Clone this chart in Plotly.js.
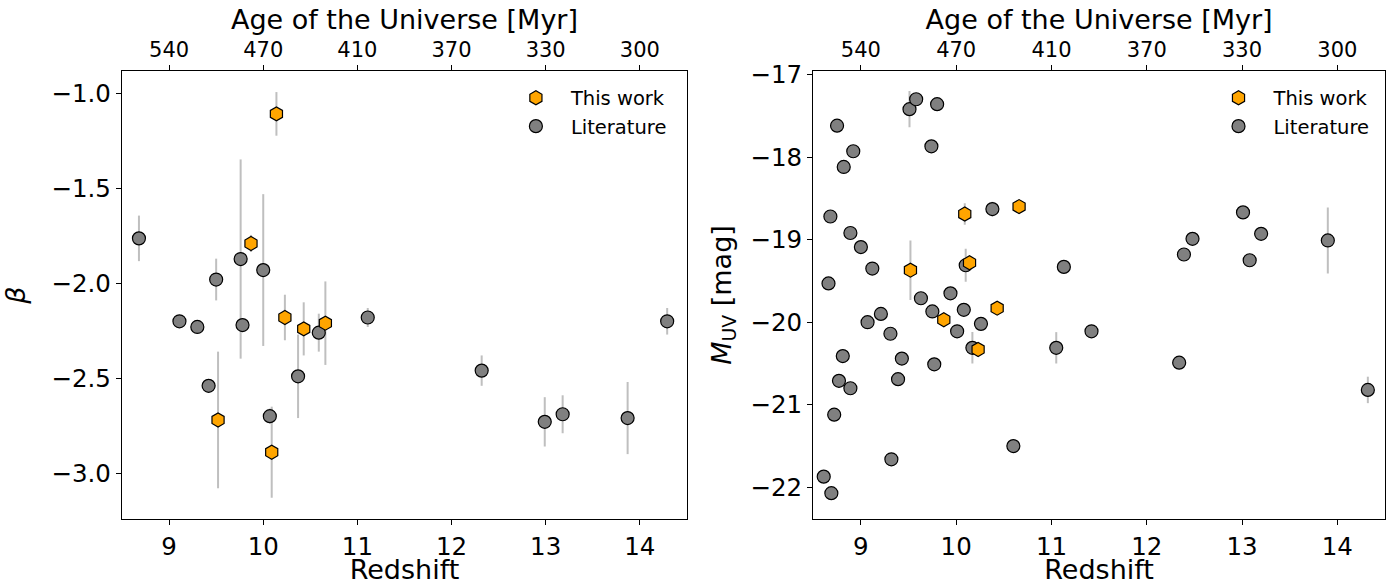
<!DOCTYPE html>
<html>
<head>
<meta charset="utf-8">
<script src="https://cdn.plot.ly/plotly-3.0.1.min.js"></script>
<style>
  html, body { margin: 0; padding: 0; background: #ffffff; }
  #chart { width: 1397px; height: 585px; }
</style>
</head>
<body>
<div id="chart"></div>
<script>
// Galaxies from this work (same objects in both panels)
const zThisWork      = [9.52, 9.87, 10.09, 10.14, 10.23, 10.43, 10.66];
const betaThisWork   = [-2.72, -1.79, -2.89, -1.107, -2.18, -2.24, -2.21];
const betaErrThisWork = [0.36, 0.045, 0.24, 0.115, 0.12, 0.14, 0.22];
const muvThisWork    = [-19.37, -19.97, -18.69, -19.28, -20.33, -19.83, -18.60];
const muvErrThisWork = [0.36, 0.03, 0.13, 0.03, 0.03, 0.03, 0.03];

// Literature: UV slope sample
const zLitBeta    = [8.68, 9.76, 10.00, 9.50, 9.11, 9.30, 9.78, 10.59, 11.11, 10.37, 9.42, 10.07, 12.32, 12.99, 13.18, 13.87, 14.29];
const betaLit     = [-1.763, -1.872, -1.93, -1.98, -2.20, -2.23, -2.22, -2.26, -2.18, -2.49, -2.54, -2.70, -2.46, -2.73, -2.69, -2.71, -2.20];
const betaLitErr  = [0.12, 0.525, 0.40, 0.11, 0.02, 0.02, 0.02, 0.10, 0.05, 0.22, 0.02, 0.04, 0.08, 0.13, 0.10, 0.19, 0.07];

// Literature: UV magnitude sample
const zLitMuv   = [8.75, 8.92, 8.82, 9.51, 9.58, 9.80, 9.74, 8.68, 10.38, 8.89, 9.00, 9.12, 8.66, 10.10, 11.13, 9.63,
                   9.94, 9.75, 10.08, 10.26, 10.01, 9.21, 9.07, 9.31, 10.17, 11.05, 8.81, 9.43, 9.77, 8.77, 9.39, 8.89,
                   8.72, 10.60, 9.32, 8.61, 8.69, 11.42, 13.01, 12.48, 12.39, 13.20, 13.08, 13.90, 12.34, 14.32];
const muvLit    = [-17.62, -17.93, -18.12, -17.42, -17.30, -17.36, -17.87, -18.72, -18.63, -18.92, -19.09, -19.35, -19.53, -19.31, -19.33, -19.71,
                   -19.65, -19.87, -19.85, -20.02, -20.11, -19.90, -20.00, -20.14, -20.31, -20.31, -20.41, -20.44, -20.51, -20.71, -20.69, -20.80,
                   -21.12, -21.50, -21.66, -21.87, -22.07, -20.11, -18.67, -18.99, -19.18, -18.93, -19.25, -19.01, -20.49, -20.82];
const muvLitErr = [0.02, 0.02, 0.02, 0.22, 0.02, 0.02, 0.02, 0.08, 0.09, 0.02, 0.02, 0.02, 0.02, 0.20, 0.02, 0.02,
                   0.07, 0.02, 0.02, 0.02, 0.08, 0.02, 0.02, 0.02, 0.19, 0.19, 0.02, 0.02, 0.08, 0.08, 0.02, 0.02,
                   0.02, 0.02, 0.02, 0.02, 0.02, 0.06, 0.02, 0.02, 0.02, 0.02, 0.02, 0.40, 0.02, 0.16];

// Redshift ticks and the matching cosmic age labels
const zTicks = [9, 10, 11, 12, 13, 14];
const ageTickLabels = ['540', '470', '410', '370', '330', '300'];

const FONT = 'DejaVu Sans, Liberation Sans, sans-serif';
const ERR_COLOR = 'rgba(128,128,128,0.5)';

function errTrace(x, y, err, xa, ya) {
  return {
    x: x, y: y, type: 'scatter', mode: 'markers', xaxis: xa, yaxis: ya,
    marker: { size: 1, color: 'rgba(0,0,0,0)' },
    error_y: { type: 'data', array: err, visible: true, color: ERR_COLOR, thickness: 2, width: 0 },
    showlegend: false, hoverinfo: 'skip'
  };
}
function litTrace(x, y, xa, ya, legend) {
  return {
    x: x, y: y, type: 'scatter', mode: 'markers', xaxis: xa, yaxis: ya,
    name: 'Literature', legend: legend, legendrank: 2,
    marker: { symbol: 'circle', size: 13, color: '#808080', line: { color: '#000000', width: 1.2 } }
  };
}
function thisWorkTrace(x, y, xa, ya, legend) {
  return {
    x: x, y: y, type: 'scatter', mode: 'markers', xaxis: xa, yaxis: ya,
    name: 'This work', legend: legend, legendrank: 1,
    marker: { symbol: 'hexagon', size: 14, color: '#FFA500', line: { color: '#000000', width: 1.2 } }
  };
}
// Empty carrier so the secondary (age) axis on top gets drawn
function ageAxisCarrier(xa, ya) {
  return { x: [], y: [], type: 'scatter', mode: 'markers', xaxis: xa, yaxis: ya, showlegend: false, hoverinfo: 'skip' };
}

const traces = [
  errTrace(zLitBeta, betaLit, betaLitErr, 'x', 'y'),
  errTrace(zThisWork, betaThisWork, betaErrThisWork, 'x', 'y'),
  litTrace(zLitBeta, betaLit, 'x', 'y', 'legend'),
  thisWorkTrace(zThisWork, betaThisWork, 'x', 'y', 'legend'),
  errTrace(zLitMuv, muvLit, muvLitErr, 'x2', 'y2'),
  errTrace(zThisWork, muvThisWork, muvErrThisWork, 'x2', 'y2'),
  litTrace(zLitMuv, muvLit, 'x2', 'y2', 'legend2'),
  thisWorkTrace(zThisWork, muvThisWork, 'x2', 'y2', 'legend2'),
  ageAxisCarrier('x3', 'y'),
  ageAxisCarrier('x4', 'y2')
];

const zRange = [8.5, 14.5];
const tickFont = { family: FONT, size: 24.5, color: '#000' };
const titleFont = { family: FONT, size: 27, color: '#000' };

function bottomAxis(domain, anchor) {
  return {
    domain: domain, anchor: anchor, range: zRange, tickvals: zTicks,
    ticks: 'outside', ticklen: 5, tickwidth: 1, tickcolor: '#000',
    showline: true, linecolor: '#000', linewidth: 1.2, mirror: true,
    showgrid: false, zeroline: false, tickfont: tickFont,
    title: { text: 'Redshift', font: titleFont, standoff: 10 }
  };
}
function topAxis(over, anchor) {
  return {
    overlaying: over, anchor: anchor, side: 'top', range: zRange,
    tickvals: zTicks, ticktext: ageTickLabels,
    ticks: 'outside', ticklen: 5, tickwidth: 1, tickcolor: '#000',
    showline: false, showgrid: false, zeroline: false,
    tickfont: { family: FONT, size: 21, color: '#000' },
    title: { text: 'Age of the Universe [Myr]', font: titleFont, standoff: 0 }
  };
}
function leftAxis(range, dtick, title, anchor, standoff) {
  return {
    anchor: anchor, range: range, dtick: dtick,
    ticks: 'outside', ticklen: 5, tickwidth: 1, tickcolor: '#000',
    showline: true, linecolor: '#000', linewidth: 1.2, mirror: true,
    showgrid: false, zeroline: false, tickfont: tickFont,
    title: { text: title, font: titleFont, standoff: standoff }
  };
}

const legendStyle = {
  font: { family: FONT, size: 19.5, color: '#000' },
  bgcolor: 'rgba(255,255,255,0)', borderwidth: 0,
  xanchor: 'left', yanchor: 'top', itemwidth: 60, tracegroupgap: 0
};

const layout = {
  width: 1397, height: 585,
  margin: { l: 122, r: 12, t: 71, b: 66 },
  paper_bgcolor: '#ffffff', plot_bgcolor: '#ffffff',
  font: { family: FONT, color: '#000' },
  xaxis: bottomAxis([0, 0.4473], 'y'),
  yaxis: Object.assign(leftAxis([-3.242, -0.881], 0.5, '<i>β</i>', 'x', 18), { tickformat: '.1f' }),
  xaxis2: bottomAxis([0.5473, 1], 'y2'),
  yaxis2: leftAxis([-22.383, -16.958], 1, '<i>M</i><sub>UV</sub> [mag]', 'x2', 11),
  xaxis3: topAxis('x', 'y'),
  xaxis4: topAxis('x2', 'y2'),
  legend: Object.assign({ x: 0.3, y: 0.983 }, legendStyle),
  legend2: Object.assign({ x: 0.8563, y: 0.983 }, legendStyle),
  showlegend: true
};

Plotly.newPlot('chart', traces, layout, { displayModeBar: false, staticPlot: true });
</script>
</body>
</html>
